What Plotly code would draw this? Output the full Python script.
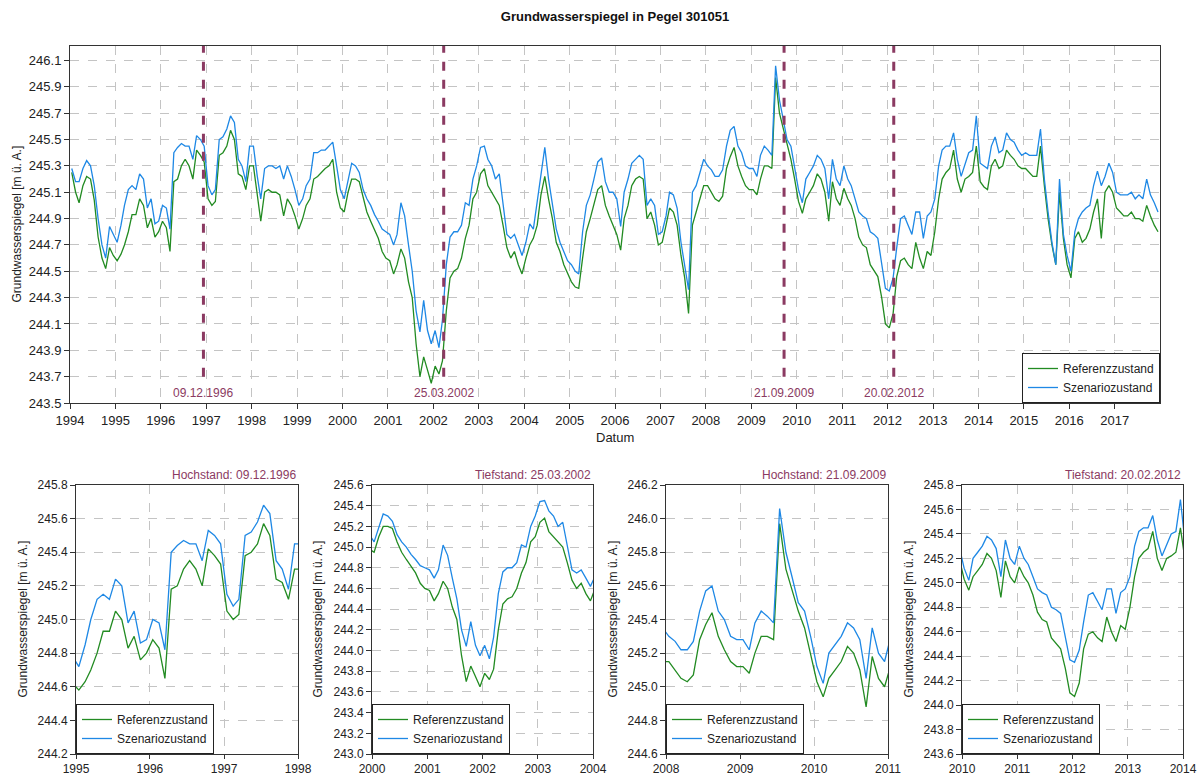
import plotly.graph_objects as go
from datetime import date, datetime

# ---------------- data (monthly values, Jan 1994 .. Dec 2017) ----------------
START_YEAR = 1994

ref_level = [
    # 1994
    245.25, 245.10, 245.02, 245.15, 245.22, 245.20, 245.04, 244.76, 244.60, 244.52, 244.68, 244.62,
    # 1995
    244.58, 244.63, 244.70, 244.80, 244.93, 244.93, 245.05, 245.00, 244.83, 244.90, 244.76, 244.80,
    # 1996
    244.88, 244.83, 244.65, 245.18, 245.20, 245.30, 245.35, 245.30, 245.20, 245.42, 245.38, 245.33,
    # 1997
    245.05, 245.00, 245.03, 245.38, 245.40, 245.45, 245.57, 245.50, 245.24, 245.22, 245.12, 245.30,
    # 1998
    245.30, 245.08, 244.88, 245.10, 245.12, 245.10, 245.10, 245.08, 244.92, 245.05, 245.00, 244.92,
    # 1999
    244.82, 244.90, 245.00, 245.05, 245.20, 245.22, 245.25, 245.28, 245.30, 245.35, 245.10, 244.98,
    # 2000
    244.95, 245.10, 245.20, 245.20, 245.18, 245.05, 244.95, 244.88, 244.82, 244.75, 244.65, 244.60,
    # 2001
    244.58, 244.48, 244.55, 244.67, 244.60, 244.42, 244.30, 243.95, 243.70, 243.85, 243.75, 243.65,
    # 2002
    243.78, 243.72, 243.82, 244.20, 244.45, 244.50, 244.52, 244.60, 244.75, 244.85, 245.05, 245.10,
    # 2003
    245.24, 245.28, 245.15, 245.10, 245.05, 245.00, 244.85, 244.68, 244.60, 244.65, 244.55, 244.48,
    # 2004
    244.60, 244.70, 244.75, 244.85, 245.08, 245.22, 245.05, 244.90, 244.72, 244.65, 244.55, 244.48,
    # 2005
    244.42, 244.38, 244.37, 244.60, 244.80, 244.90, 245.00, 245.12, 245.15, 245.00, 244.92, 244.85,
    # 2006
    244.78, 244.66, 244.90, 245.00, 245.15, 245.20, 245.22, 245.20, 244.90, 244.95, 244.85, 244.70,
    # 2007
    244.72, 244.85, 244.98, 244.95, 244.85, 244.62, 244.45, 244.18, 244.85, 244.95, 245.05, 245.15,
    # 2008
    245.15, 245.10, 245.05, 245.03, 245.07, 245.28, 245.37, 245.44, 245.30, 245.22, 245.15, 245.12,
    # 2009
    245.12, 245.08, 245.20, 245.30, 245.30, 245.28, 245.97, 245.70, 245.58, 245.45, 245.35, 245.20,
    # 2010
    245.03, 244.94, 245.05, 245.10, 245.15, 245.24, 245.20, 245.10, 244.88, 245.18, 245.05, 245.00,
    # 2011
    245.13, 245.05, 245.00, 244.90, 244.76, 244.70, 244.68, 244.55, 244.50, 244.46, 244.30, 244.10,
    # 2012
    244.07, 244.18, 244.46, 244.58, 244.60, 244.55, 244.52, 244.72, 244.60, 244.52, 244.65, 244.62,
    # 2013
    244.80, 245.05, 245.20, 245.25, 245.28, 245.42, 245.20, 245.10, 245.20, 245.22, 245.25, 245.45,
    # 2014
    245.18, 245.14, 245.12, 245.30, 245.35, 245.28, 245.30, 245.42, 245.38, 245.35, 245.30, 245.28,
    # 2015
    245.28, 245.25, 245.22, 245.22, 245.45, 245.15, 244.90, 244.70, 244.55, 245.10, 244.75, 244.55,
    # 2016
    244.45, 244.75, 244.80, 244.72, 244.75, 244.82, 244.95, 245.05, 244.75, 245.10, 245.15, 245.10,
    # 2017
    244.98, 244.95, 244.92, 244.92, 244.95, 244.90, 244.90, 244.88, 245.00, 244.92, 244.85, 244.80,
]

scen_level = [
    # 1994
    245.28, 245.18, 245.18, 245.28, 245.34, 245.30, 245.15, 244.90, 244.70, 244.60, 244.84, 244.78,
    # 1995
    244.72, 244.85, 245.00, 245.12, 245.15, 245.12, 245.24, 245.20, 244.98, 245.05, 244.86, 244.88,
    # 1996
    245.00, 244.98, 244.82, 245.40, 245.44, 245.47, 245.45, 245.45, 245.35, 245.53, 245.50, 245.45,
    # 1997
    245.15, 245.08, 245.12, 245.50, 245.52, 245.58, 245.68, 245.63, 245.35, 245.30, 245.18, 245.45,
    # 1998
    245.45, 245.22, 245.05, 245.28, 245.30, 245.30, 245.28, 245.30, 245.20, 245.30, 245.22, 245.12,
    # 1999
    245.00, 245.05, 245.15, 245.20, 245.40, 245.40, 245.42, 245.42, 245.45, 245.48, 245.30, 245.12,
    # 2000
    245.05, 245.20, 245.32, 245.30, 245.25, 245.12, 245.05, 245.00, 244.93, 244.88, 244.82, 244.80,
    # 2001
    244.78, 244.70, 244.78, 245.02, 244.92, 244.70, 244.50, 244.20, 244.04, 244.28, 244.05, 243.95,
    # 2002
    244.05, 243.92, 244.13, 244.55, 244.76, 244.80, 244.80, 244.85, 245.02, 245.00, 245.20, 245.30,
    # 2003
    245.44, 245.45, 245.35, 245.30, 245.20, 245.24, 245.00, 244.78, 244.75, 244.78, 244.70, 244.62,
    # 2004
    244.72, 244.86, 244.82, 245.02, 245.25, 245.44, 245.20, 245.00, 244.82, 244.72, 244.65, 244.58,
    # 2005
    244.55, 244.50, 244.48, 244.80, 245.00, 245.08, 245.20, 245.33, 245.36, 245.18, 245.10, 245.10,
    # 2006
    245.05, 244.84, 245.10, 245.20, 245.32, 245.35, 245.38, 245.35, 245.00, 245.05, 245.00, 244.78,
    # 2007
    244.80, 244.92, 245.10, 245.08, 244.98, 244.72, 244.55, 244.36, 245.10, 245.15, 245.25, 245.35,
    # 2008
    245.30, 245.27, 245.22, 245.22, 245.27, 245.45, 245.57, 245.60, 245.45, 245.40, 245.30, 245.28,
    # 2009
    245.28, 245.22, 245.38, 245.45, 245.42, 245.38, 246.06, 245.80, 245.65, 245.50, 245.45, 245.30,
    # 2010
    245.12, 245.02, 245.20, 245.25, 245.30, 245.38, 245.35, 245.28, 245.05, 245.35, 245.20, 245.15,
    # 2011
    245.30, 245.20, 245.15, 245.05, 244.95, 244.92, 244.90, 244.80, 244.78, 244.75, 244.55, 244.37,
    # 2012
    244.35, 244.45, 244.68, 244.90, 244.92, 244.85, 244.78, 244.95, 244.95, 244.75, 244.92, 244.95,
    # 2013
    245.05, 245.30, 245.42, 245.45, 245.45, 245.55, 245.35, 245.22, 245.32, 245.40, 245.42, 245.68,
    # 2014
    245.32, 245.30, 245.28, 245.45, 245.52, 245.40, 245.42, 245.55, 245.50, 245.48, 245.42, 245.38,
    # 2015
    245.40, 245.38, 245.38, 245.38, 245.58, 245.20, 244.95, 244.72, 244.55, 245.20, 244.78, 244.62,
    # 2016
    244.50, 244.80, 244.90, 244.95, 244.98, 245.00, 245.15, 245.26, 245.15, 245.22, 245.32, 245.25,
    # 2017
    245.10, 245.08, 245.08, 245.08, 245.10, 245.05, 245.08, 245.05, 245.20, 245.08, 245.02, 244.95,
]

dates = [date(START_YEAR + i // 12, i % 12 + 1, 15).isoformat() for i in range(len(ref_level))]

series_names = ["Referenzzustand", "Szenariozustand"]
event_dates = ["1996-12-09", "2002-03-25", "2009-09-21", "2012-02-20"]
event_kinds = ["Hochstand", "Tiefstand", "Hochstand", "Tiefstand"]
panel_years = [(1995, 1998), (2000, 2004), (2008, 2011), (2010, 2014)]
panel_yranges = [(244.2, 245.8), (243.0, 245.6), (244.6, 246.2), (243.6, 245.8)]
main_years = (1994, 2018)
main_yrange = (243.5, 246.21)

# ---------------- styling ----------------
W, H = 1203, 776
GREEN = "#228B22"
BLUE = "#1E88E5"
EVENT = "#8B3A62"
AXIS = "#333333"
GRID = "#C4C4C4"
FONT = "Liberation Sans, Arial, sans-serif"
colors = [GREEN, BLUE]
series = [ref_level, scen_level]


def px_x(p):
    return p / W


def px_y(p):
    return 1 - p / H


main_xdom = [px_x(70), px_x(1160)]
main_ydom = [px_y(403), px_y(46)]
panel_xdoms = [[px_x(76), px_x(298)], [px_x(372), px_x(593)],
               [px_x(666), px_x(888)], [px_x(962), px_x(1183)]]
panel_ydom = [px_y(754), px_y(485)]
panel_ytitle_x = [22, 317, 612, 908]

fig = go.Figure()

# main traces
for name, vals, col in zip(series_names, series, colors):
    fig.add_trace(go.Scatter(x=dates, y=vals, mode="lines", name=name,
                             line=dict(color=col, width=1.3),
                             xaxis="x", yaxis="y", legend="legend"))

# panel traces
for k in range(4):
    ax = str(k + 2)
    for name, vals, col in zip(series_names, series, colors):
        fig.add_trace(go.Scatter(x=dates, y=vals, mode="lines", name=name,
                                 line=dict(color=col, width=1.3),
                                 xaxis="x" + ax, yaxis="y" + ax,
                                 legend="legend" + ax))


def xaxis_cfg(y0, y1, dom, anchor, last_day=False, size=12, ticklen=5):
    end = f"{y1 - 1}-12-31" if last_day else f"{y1}-01-01"
    return dict(type="date", domain=dom, anchor=anchor,
                range=[f"{y0}-01-01", end],
                tickmode="linear", tick0=f"{y0}-01-01", dtick="M12", tickformat="%Y",
                showline=True, linecolor=AXIS, linewidth=1, mirror=True,
                ticks="outside", ticklen=ticklen, tickcolor=AXIS,
                tickfont=dict(family=FONT, size=size, color="#222222"),
                showgrid=True, gridcolor=GRID, griddash="dash", gridwidth=1,
                zeroline=False, automargin=False, fixedrange=True)


def yaxis_cfg(r, dom, anchor, size=12):
    return dict(domain=dom, anchor=anchor, range=list(r),
                tickmode="linear", tick0=r[0], dtick=0.2, tickformat=".1f",
                showline=True, linecolor=AXIS, linewidth=1, mirror=True,
                ticks="outside", ticklen=5, tickcolor=AXIS,
                tickfont=dict(family=FONT, size=size, color="#222222"),
                showgrid=True, gridcolor=GRID, griddash="dash", gridwidth=1,
                zeroline=False, automargin=False, fixedrange=True)


layout = dict(
    width=W, height=H, margin=dict(l=0, r=0, t=0, b=0),
    paper_bgcolor="white", plot_bgcolor="white",
    font=dict(family=FONT, size=12, color="#222222"),
    title=dict(text="<b>Grundwasserspiegel in Pegel 301051</b>",
               x=px_x(615), y=px_y(16), xanchor="center", yanchor="middle",
               xref="paper", yref="paper",
               font=dict(family=FONT, size=13, color="#111111")),
    xaxis=xaxis_cfg(main_years[0], main_years[1], main_xdom, "y", last_day=True, size=13),
    yaxis=yaxis_cfg(main_yrange, main_ydom, "x", size=13),
    hovermode=False,
)

legend_common = dict(bgcolor="white", bordercolor="#222222", borderwidth=1,
                     font=dict(family=FONT, size=12, color="#222222"),
                     traceorder="normal", itemwidth=30, tracegroupgap=0,
                     xanchor="left", yanchor="bottom")
layout["legend"] = dict(legend_common, x=px_x(1160), y=main_ydom[0], xanchor="right")

for k in range(4):
    ax = str(k + 2)
    y0, y1 = panel_years[k]
    layout["xaxis" + ax] = xaxis_cfg(y0, y1, panel_xdoms[k], "y" + ax, ticklen=4)
    layout["yaxis" + ax] = yaxis_cfg(panel_yranges[k], panel_ydom, "x" + ax)
    layout["legend" + ax] = dict(legend_common, x=panel_xdoms[k][0], y=panel_ydom[0])

fig.update_layout(**layout)

# event lines & labels on main chart
annotations = []
shapes = []
for d, kind, k in zip(event_dates, event_kinds, range(4)):
    label = datetime.strptime(d, "%Y-%m-%d").strftime("%d.%m.%Y")
    shapes.append(dict(type="line", xref="x", yref="y", x0=d, x1=d,
                       y0=243.7, y1=main_yrange[1],
                       line=dict(color=EVENT, width=3, dash="dash")))
    annotations.append(dict(x=d, y=243.575, xref="x", yref="y", text=label,
                            showarrow=False, xanchor="center", yanchor="middle",
                            font=dict(family=FONT, size=12, color=EVENT)))
    ax = str(k + 2)
    annotations.append(dict(x=1, y=1, xref="x" + ax + " domain", yref="y" + ax + " domain",
                            text=f"{kind}: {label}", showarrow=False,
                            xanchor="right", yanchor="bottom", yshift=1,
                            font=dict(family=FONT, size=12, color=EVENT)))

ytitle = "Grundwasserspiegel [m ü. A.]"
annotations.append(dict(x=px_x(16), y=(main_ydom[0] + main_ydom[1]) / 2, xref="paper", yref="paper",
                        text=ytitle, textangle=-90, showarrow=False,
                        xanchor="center", yanchor="middle",
                        font=dict(family=FONT, size=12, color="#222222")))
annotations.append(dict(x=(main_xdom[0] + main_xdom[1]) / 2, y=px_y(437), xref="paper", yref="paper",
                        text="Datum", showarrow=False, xanchor="center", yanchor="middle",
                        font=dict(family=FONT, size=13, color="#222222")))
for k in range(4):
    annotations.append(dict(x=px_x(panel_ytitle_x[k]), y=(panel_ydom[0] + panel_ydom[1]) / 2,
                            xref="paper", yref="paper", text=ytitle, textangle=-90,
                            showarrow=False, xanchor="center", yanchor="middle",
                            font=dict(family=FONT, size=12, color="#222222")))

fig.update_layout(shapes=shapes, annotations=annotations)
fig.write_html("out.html", config={"displayModeBar": False})
